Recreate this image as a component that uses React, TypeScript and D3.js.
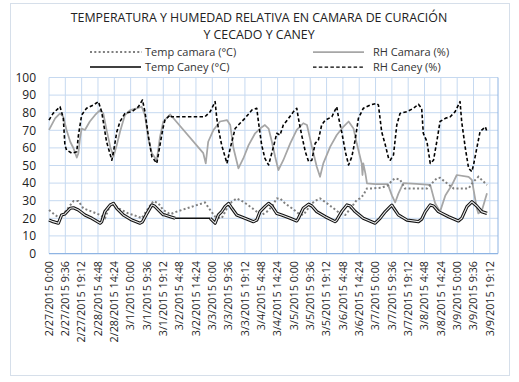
import React from "react";
import * as d3 from "d3";

// ---- Data (day offsets from 2/27/2015 0:00) ----
const tickLabels = [
  "2/27/2015 0:00", "2/27/2015 9:36", "2/27/2015 19:12", "2/28/2015 4:48", "2/28/2015 14:24",
  "3/1/2015 0:00", "3/1/2015 9:36", "3/1/2015 19:12", "3/2/2015 4:48", "3/2/2015 14:24",
  "3/3/2015 0:00", "3/3/2015 9:36", "3/3/2015 19:12", "3/4/2015 4:48", "3/4/2015 14:24",
  "3/5/2015 0:00", "3/5/2015 9:36", "3/5/2015 19:12", "3/6/2015 4:48", "3/6/2015 14:24",
  "3/7/2015 0:00", "3/7/2015 9:36", "3/7/2015 19:12", "3/8/2015 4:48", "3/8/2015 14:24",
  "3/9/2015 0:00", "3/9/2015 9:36", "3/9/2015 19:12",
];
const tickStepDays = 0.4;
const yTicks = [0, 10, 20, 30, 40, 50, 60, 70, 80, 90, 100];

const rhCaneyT = [0,0.1,0.27,0.35,0.39,0.43,0.56,0.68,0.72,0.8,0.92,1.09,1.21,1.29,1.41,1.54,1.58,1.66,1.74,1.86,2.03,2.19,2.29,2.35,2.43,2.52,2.64,2.76,2.8,2.84,2.97,3.0,3.82,3.95,4.07,4.11,4.15,4.23,4.36,4.44,4.56,4.68,4.8,4.97,5.09,5.13,5.21,5.29,5.38,5.5,5.58,5.66,5.74,5.87,5.99,6.07,6.11,6.19,6.28,6.36,6.44,6.52,6.6,6.68,6.77,6.93,7.05,7.09,7.17,7.26,7.34,7.42,7.5,7.58,7.7,7.87,8.03,8.07,8.15,8.24,8.32,8.36,8.44,8.52,8.6,8.77,8.93,9.05,9.13,9.17,9.26,9.34,9.42,9.5,9.58,9.71,9.83,9.95,10.07,10.11,10.2,10.28,10.36,10.4,10.48,10.56,10.69,10.73];
const rhCaneyV = [75.8,79.6,83.4,77,61.6,58.8,57,57.8,67,78.7,82.5,84.4,86.3,80.6,63.5,53,57.8,69,75,79.6,80.6,83.4,87.2,80.6,67.3,55,51.2,67,72,75.8,78.7,77.7,77.7,80.6,86.3,76.8,71,61.6,51.2,59.8,71,74,76.8,81.5,82.5,75,61.6,54,50.3,60.7,68.3,67.3,73,76.8,80.6,82.5,76.8,67.3,57.8,52.2,53,62.6,64.5,73,75.8,77.7,83.4,77.7,69.2,57.8,50.3,55,64.5,76.8,82.5,84.4,85.3,84.4,69.2,61.6,54,53,56,73,79.6,80.6,82.5,84.8,82.5,68.3,63.5,51.2,53,63.5,75,76.8,77.7,80.6,86.3,75,59.8,48.4,46.5,50.3,59.8,69.2,72,69.2];

const rhCamaraT = [0,0.15,0.27,0.35,0.43,0.52,0.6,0.68,0.72,0.76,0.8,0.88,1.0,1.13,1.25,1.33,1.41,1.5,1.58,1.66,1.74,1.86,1.99,2.15,2.27,2.35,2.43,2.52,2.64,2.72,2.8,2.97,3.78,3.84,3.9,4.03,4.19,4.36,4.44,4.52,4.64,4.76,4.89,5.05,5.17,5.29,5.38,5.46,5.54,5.62,5.74,5.91,6.07,6.23,6.32,6.44,6.56,6.64,6.72,6.89,7.05,7.21,7.34,7.46,7.54,7.62,7.66,7.68,7.7,7.75,7.79,8.0,8.3,8.4,8.48,8.56,8.68,9.0,9.34,9.46,9.58,9.71,9.87,9.99,10.28,10.36,10.48,10.52,10.6,10.73];
const rhCamaraV = [70.2,76.8,79.6,77.7,70.2,63.5,59.8,54.5,57,65.5,71,70.2,75,78.7,81.5,79.6,70.2,60.7,55,61.6,69.2,78.7,81.5,82.5,83.4,78.7,65.5,57,53,66.4,75,79,57,51.2,63.5,70.2,75,75.8,73,59.8,48.4,54,61.6,68.3,71,73,71,63.5,55,47.4,53,62.6,70.2,74,73,60.7,49.3,43.6,51.2,60.7,67.3,72,75,71,62.6,55,51.2,44.6,51.2,45.7,39.9,39.4,39.4,33,29,34,40,39.5,39,28.6,23.8,33,38.9,44.6,43.6,41.8,25.7,22.8,24,34.2];

const tempCamaraT = [0,0.15,0.27,0.43,0.6,0.72,0.84,1.05,1.25,1.37,1.5,1.58,1.7,1.94,2.19,2.27,2.43,2.56,2.68,2.8,2.97,3.13,3.82,3.95,4.07,4.23,4.36,4.48,4.6,4.76,4.93,5.09,5.21,5.34,5.46,5.58,5.66,5.78,5.95,6.11,6.23,6.32,6.44,6.56,6.64,6.81,6.97,7.13,7.26,7.42,7.54,7.62,7.7,7.79,7.91,8.15,8.32,8.4,8.48,8.6,8.72,9.26,9.38,9.5,9.58,9.75,9.91,10.28,10.4,10.52,10.65,10.73];
const tempCamaraV = [24.7,21.9,20,24.7,29.8,29.8,25.7,23.8,21.9,20,27.6,28.5,25.7,22.8,20.9,20,25.7,29.8,28.5,24.7,22.3,23.8,29,24.7,20.9,20,25.7,29.4,31.3,29.4,26.6,23.8,21.9,23.8,26.6,31.3,31.3,28.5,25.7,22.8,21.9,24.7,28.5,30.4,31.3,28.5,25.7,22.8,21.9,26.6,30.4,31.3,33.2,37,37,37.4,38.9,41.5,42.7,42,37,37,39.9,42.7,43,39.9,37,37,40.8,43.6,40.8,38.9];

const tempCaneyT = [0,0.1,0.23,0.31,0.39,0.52,0.6,0.72,0.88,1.05,1.25,1.29,1.37,1.5,1.58,1.66,1.82,2.03,2.23,2.29,2.4,2.52,2.58,2.72,2.8,2.84,2.97,3.09,3.95,4.07,4.15,4.23,4.31,4.4,4.48,4.6,4.8,5.01,5.09,5.17,5.29,5.38,5.46,5.58,5.7,5.91,6.07,6.11,6.23,6.36,6.44,6.56,6.77,7.01,7.05,7.17,7.3,7.38,7.5,7.7,7.99,8.11,8.24,8.36,8.4,8.44,8.56,8.77,9.05,9.13,9.22,9.34,9.42,9.54,9.79,10.03,10.11,10.24,10.36,10.48,10.6,10.73];
const tempCaneyV = [19,18.1,17.2,21.9,22.5,25.7,26,24.7,21.9,20,17.2,18,23.8,27.6,28.5,25.7,21.9,19,17.2,18,22.8,27.6,27,23.8,22,21.9,20.9,20,20,17.2,21.9,23.8,26.6,28.5,25.7,21.9,20,18.1,19,23.8,26.6,28.5,27,22.8,21.9,20,18.5,20,25.7,28,27,23.8,20.9,18.1,19,23.8,27.6,27,23.8,20,17.2,20,23.8,26.6,27.5,26,21.9,19,18.1,19.5,23.8,27.6,27,23.8,20.9,18.5,20,26.6,29.4,27,23.8,22.8];
const tempCaneyGap = [3.09, 3.95];

const titleLines = ["TEMPERATURA Y HUMEDAD RELATIVA EN CAMARA DE CURACIÓN", "Y CECADO Y CANEY"];

const W = 519, H = 382;
const plot = { left: 49, right: 498, top: 77.5, bottom: 253.5 };
const FONT = "'Open Sans', sans-serif";

export default function App() {
  const x = d3.scaleLinear().domain([0, 11]).range([plot.left, plot.right]);
  const y = d3.scaleLinear().domain([0, 100]).range([plot.bottom, plot.top]);
  const zip = (t: number[], v: number[]) => t.map((d, i) => [d, v[i]] as [number, number]);
  const line = d3.line<[number, number]>().x(d => x(d[0])).y(d => y(d[1]));

  const tc = zip(tempCaneyT, tempCaneyV);
  const tcA = tc.filter(d => d[0] <= tempCaneyGap[0]);
  const tcB = tc.filter(d => d[0] >= tempCaneyGap[1]);
  const tcGap = tc.filter(d => d[0] >= tempCaneyGap[0] && d[0] <= tempCaneyGap[1]);

  const xTickVals = tickLabels.map((_, i) => i * tickStepDays);
  const gridX = [...xTickVals, 11];
  const grid = "#c6d9f0";
  const axisCol = "#8eb4e3";

  return (
    <svg width={W} height={H} style={{ position: "absolute", left: 0, top: 0, background: "#fff" }} fontFamily={FONT}>
      <rect x={0} y={0} width={W} height={H} fill="#fff" />
      <rect x={10.5} y={3.5} width={499} height={372} fill="#fff" stroke="#d6dfea" strokeWidth={1} />
      {titleLines.map((t, i) => (
        <text key={i} x={259} y={22 + i * 17} textAnchor="middle" fontSize={12.4} fill="#222">{t}</text>
      ))}
      {/* legend */}
      <g fontSize={11} fill="#333">
        <line x1={90} x2={142} y1={52} y2={52} stroke="#7f7f7f" strokeWidth={2} strokeDasharray="2 2.3" />
        <text x={145} y={56}>Temp camara (°C)</text>
        <line x1={313} x2={364} y1={52} y2={52} stroke="#a6a6a6" strokeWidth={1.75} />
        <text x={373} y={56}>RH Camara (%)</text>
        <line x1={90} x2={141} y1={67} y2={67} stroke="#000" strokeWidth={1.5} />
        <text x={145} y={71}>Temp Caney (°C)</text>
        <line x1={313} x2={365} y1={67} y2={67} stroke="#000" strokeWidth={1.25} strokeDasharray="3.5 2.3" />
        <text x={373} y={71}>RH Caney (%)</text>
      </g>
      {/* grid */}
      {yTicks.map(v => (
        <line key={"h" + v} x1={plot.left} x2={plot.right} y1={y(v)} y2={y(v)} stroke={grid} strokeWidth={1} />
      ))}
      {gridX.map((v, i) => (
        <line key={"v" + i} x1={x(v)} x2={x(v)} y1={plot.top} y2={plot.bottom} stroke={i === gridX.length - 1 ? axisCol : grid} strokeWidth={1} />
      ))}
      <line x1={plot.left} x2={plot.right} y1={plot.bottom} y2={plot.bottom} stroke={axisCol} strokeWidth={1.25} />
      {/* y labels */}
      {yTicks.map(v => (
        <text key={"yl" + v} x={36} y={y(v)} dy="0.35em" textAnchor="end" fontSize={12} fill="#222">{v}</text>
      ))}
      {/* x labels */}
      {tickLabels.map((l, i) => (
        <text key={"xl" + i} transform={`translate(${x(xTickVals[i])},261) rotate(-90)`} dy="0.35em" textAnchor="end" fontSize={10.8} fill="#222">{l}</text>
      ))}
      {/* series */}
      <path d={line(zip(rhCamaraT, rhCamaraV)) || ""} fill="none" stroke="#a6a6a6" strokeWidth={1.75} strokeLinejoin="round" />
      <path d={line(zip(tempCamaraT, tempCamaraV)) || ""} fill="none" stroke="#7f7f7f" strokeWidth={2} strokeDasharray="2 2.3" />
      {[tcA, tcB].map((seg, i) => (
        <g key={"tc" + i}>
          <path d={line(seg) || ""} fill="none" stroke="#111" strokeWidth={3.2} strokeLinejoin="round" />
          <path d={line(seg) || ""} fill="none" stroke="#e8e8e8" strokeWidth={1.1} strokeLinejoin="round" />
        </g>
      ))}
      <path d={line(tcGap) || ""} fill="none" stroke="#111" strokeWidth={1.5} />
      <path d={line(zip(rhCaneyT, rhCaneyV)) || ""} fill="none" stroke="#000" strokeWidth={1.6} strokeDasharray="3.5 2.3" strokeLinejoin="round" />
    </svg>
  );
}
